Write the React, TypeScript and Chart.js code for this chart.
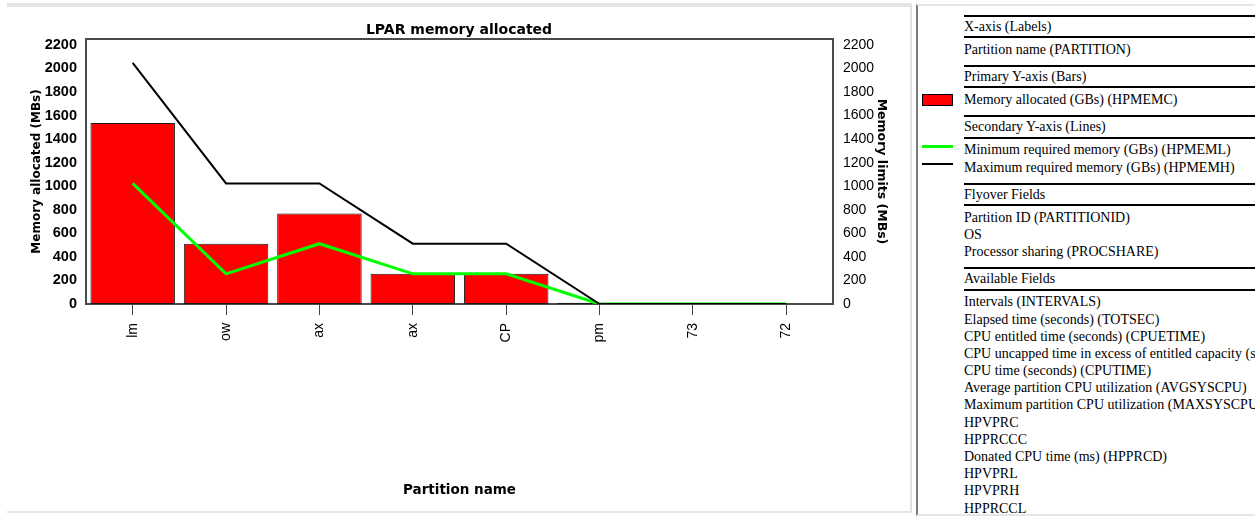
import React, { useEffect, useRef } from 'react';
import { Chart, registerables } from 'chart.js';

Chart.register(...registerables);

// ---------------- data ----------------
const partitions = ['lm', 'ow', 'ax', 'ax', 'CP', 'pm', '73', '72'];
const memAllocated = [1536, 512, 768, 256, 256, 10, 0, 0];
const memMinimum = [1024, 256, 512, 256, 256, 0, 0, 0];
const memMaximum = [2048, 1024, 1024, 512, 512, 0, 0, 0];
const yTickValues = [0, 200, 400, 600, 800, 1000, 1200, 1400, 1600, 1800, 2000, 2200];
const Y_MAX = 2250;

const chartTitle = 'LPAR memory allocated';
const xAxisTitle = 'Partition name';
const yAxisTitle = 'Memory allocated (MBs)';
const y1AxisTitle = 'Memory limits (MBs)';

const barLabel = 'Memory allocated (GBs) (HPMEMC)';
const minLabel = 'Minimum required memory (GBs) (HPMEML)';
const maxLabel = 'Maximum required memory (GBs) (HPMEMH)';

const RED = '#ff0000';
const GREEN = '#00ff00';
const BLACK = '#000000';

const xLabelItems = ['Partition name (PARTITION)'];
const flyoverItems = ['Partition ID (PARTITIONID)', 'OS', 'Processor sharing (PROCSHARE)'];
const availableItems = [
  'Intervals (INTERVALS)',
  'Elapsed time (seconds) (TOTSEC)',
  'CPU entitled time (seconds) (CPUETIME)',
  'CPU uncapped time in excess of entitled capacity (seconds)',
  'CPU time (seconds) (CPUTIME)',
  'Average partition CPU utilization (AVGSYSCPU)',
  'Maximum partition CPU utilization (MAXSYSCPU)',
  'HPVPRC',
  'HPPRCCC',
  'Donated CPU time (ms) (HPPRCD)',
  'HPVPRL',
  'HPVPRH',
  'HPPRCCL',
];

type LegendItem = { text: string; swatch?: 'bar' | 'green' | 'black' };
const legendSections: { title: string; items: LegendItem[] }[] = [
  { title: 'X-axis (Labels)', items: xLabelItems.map((t) => ({ text: t })) },
  { title: 'Primary Y-axis (Bars)', items: [{ text: barLabel, swatch: 'bar' }] },
  {
    title: 'Secondary Y-axis (Lines)',
    items: [
      { text: minLabel, swatch: 'green' },
      { text: maxLabel, swatch: 'black' },
    ],
  },
  { title: 'Flyover Fields', items: flyoverItems.map((t) => ({ text: t })) },
  { title: 'Available Fields', items: availableItems.map((t) => ({ text: t })) },
];

// ---------------- chart ----------------
const SANS = "'DejaVu Sans', Verdana, sans-serif";
const ARIAL = "'Liberation Sans', Arial, sans-serif";
const SERIF = "'Liberation Serif', 'Times New Roman', serif";

const framePlugin = {
  id: 'plotFrame',
  beforeDatasetsDraw(chart: any) {
    const { ctx, chartArea: a } = chart;
    ctx.save();
    ctx.strokeStyle = '#4a4a4a';
    ctx.lineWidth = 2;
    ctx.strokeRect(a.left, a.top, a.right - a.left, a.bottom - a.top);
    ctx.restore();
  },
};

function LparChart() {
  const ref = useRef<HTMLCanvasElement | null>(null);

  useEffect(() => {
    if (!ref.current) return;
    const setTicks = (s: any) => {
      s.ticks = yTickValues.map((v) => ({ value: v }));
    };
    const plainNumber = (v: any) => String(v);
    const chart = new Chart(ref.current, {
      type: 'bar',
      data: {
        labels: partitions,
        datasets: [
          {
            type: 'line',
            label: maxLabel,
            data: memMaximum,
            borderColor: BLACK,
            backgroundColor: BLACK,
            borderWidth: 2,
            pointRadius: 0,
            tension: 0,
            fill: false,
            yAxisID: 'y1',
            order: 0,
          },
          {
            type: 'line',
            label: minLabel,
            data: memMinimum,
            borderColor: GREEN,
            backgroundColor: GREEN,
            borderWidth: 3,
            pointRadius: 0,
            tension: 0,
            fill: false,
            yAxisID: 'y1',
            order: 1,
          },
          {
            type: 'bar',
            label: barLabel,
            data: memAllocated,
            backgroundColor: RED,
            borderColor: '#1a1a1a',
            borderWidth: 1,
            borderSkipped: false,
            categoryPercentage: 1,
            barPercentage: 0.905,
            yAxisID: 'y',
            order: 2,
          },
        ],
      } as any,
      options: {
        responsive: false,
        animation: false,
        layout: { padding: 0 },
        plugins: {
          legend: { display: false },
          tooltip: { enabled: false },
          title: {
            display: true,
            text: chartTitle,
            color: '#000',
            font: { family: SANS, size: 14, weight: 'bold', lineHeight: 1.2 },
            padding: { top: 22, bottom: 0.2 },
          },
        },
        scales: {
          x: {
            type: 'category',
            offset: true,
            grid: {
              display: true,
              drawOnChartArea: false,
              drawTicks: true,
              tickLength: 11,
              color: '#444',
              lineWidth: 1,
              offset: false,
            },
            border: { display: false },
            ticks: {
              color: '#000',
              font: { family: ARIAL, size: 14 },
              minRotation: 90,
              maxRotation: 90,
              autoSkip: false,
              padding: 8,
            },
            title: {
              display: true,
              text: xAxisTitle,
              color: '#000',
              font: { family: SANS, size: 13.5, weight: 'bold' },
              padding: { top: 0, bottom: 13 },
            },
            afterFit: (s: any) => {
              s.height = 208;
            },
          },
          y: {
            position: 'left',
            min: 0,
            max: Y_MAX,
            grid: { display: false, drawTicks: false },
            border: { display: false },
            afterBuildTicks: setTicks,
            ticks: {
              color: '#000',
              font: { family: ARIAL, size: 14.5, weight: 'bold' },
              padding: 9,
              callback: plainNumber,
            },
            title: {
              display: true,
              text: yAxisTitle,
              color: '#000',
              font: { family: SANS, size: 12, weight: 'bold' },
              padding: { top: 29.8, bottom: 0 },
            },
            afterFit: (s: any) => {
              s.width = 86;
            },
          },
          y1: {
            position: 'right',
            min: 0,
            max: Y_MAX,
            grid: { display: false, drawTicks: false },
            border: { display: false },
            afterBuildTicks: setTicks,
            ticks: {
              color: '#000',
              font: { family: ARIAL, size: 14 },
              padding: 10,
              callback: plainNumber,
            },
            title: {
              display: true,
              text: y1AxisTitle,
              color: '#000',
              font: { family: SANS, size: 12.5, weight: 'bold' },
              padding: { top: 28.8, bottom: 0 },
            },
            afterFit: (s: any) => {
              s.width = 85;
            },
          },
        },
      } as any,
      plugins: [framePlugin],
    });
    return () => chart.destroy();
  }, []);

  return (
    <canvas
      ref={ref}
      width={918}
      height={512}
      style={{ position: 'absolute', left: 0, top: 0, width: 918, height: 512 }}
    />
  );
}

// ---------------- legend panel ----------------
function Swatch({ kind }: { kind: LegendItem['swatch'] }) {
  if (kind === 'bar') {
    return (
      <div
        style={{
          position: 'absolute',
          left: -42.3,
          top: 2.8,
          width: 31,
          height: 11.7,
          boxSizing: 'border-box',
          border: '1px solid #000',
          background: RED,
        }}
      />
    );
  }
  if (kind === 'green' || kind === 'black') {
    const th = kind === 'green' ? 3 : 2;
    return (
      <div
        style={{
          position: 'absolute',
          left: -42.3,
          top: 8.6 - 3.5 - th / 2,
          width: 31,
          height: th,
          background: kind === 'green' ? GREEN : BLACK,
        }}
      />
    );
  }
  return null;
}

function LegendPanel() {
  return (
    <div
      style={{
        position: 'absolute',
        left: 916,
        top: 4,
        width: 339,
        height: 512,
        boxSizing: 'border-box',
        borderLeft: '2px solid #7c7c7c',
        borderTop: '2px solid #e6e6e6',
        borderBottom: '2px solid #e6e6e6',
        overflow: 'hidden',
        background: '#fff',
      }}
    >
      <div
        style={{
          position: 'absolute',
          left: 46,
          top: 9,
          width: 420,
          fontFamily: SERIF,
          fontSize: 14,
          color: '#000',
        }}
      >
        {legendSections.map((sec, si) => (
          <div key={si}>
            <div style={{ height: 2, background: '#000' }} />
            <div style={{ height: 19.3, lineHeight: '19.3px', whiteSpace: 'nowrap' }}>{sec.title}</div>
            <div style={{ height: 2, background: '#000' }} />
            <div style={{ paddingTop: 2.8, paddingBottom: 6.9 }}>
              {sec.items.map((it, ii) => (
                <div
                  key={ii}
                  style={{ position: 'relative', height: 17.2, lineHeight: '17.2px', whiteSpace: 'nowrap' }}
                >
                  <Swatch kind={it.swatch} />
                  {it.text}
                </div>
              ))}
            </div>
          </div>
        ))}
      </div>
    </div>
  );
}

export default function App() {
  return (
    <div
      style={{
        position: 'absolute',
        left: 0,
        top: 0,
        width: 1255,
        height: 516,
        overflow: 'hidden',
        background: '#fff',
      }}
    >
      <div
        style={{
          position: 'absolute',
          left: 7,
          top: 3,
          width: 905,
          height: 510,
          boxSizing: 'border-box',
          borderTop: '4px solid #e4e4e4',
          borderRight: '2px solid #e0e0e0',
          borderBottom: '2px solid #e6e6e6',
        }}
      />
      <LparChart />
      <LegendPanel />
    </div>
  );
}
